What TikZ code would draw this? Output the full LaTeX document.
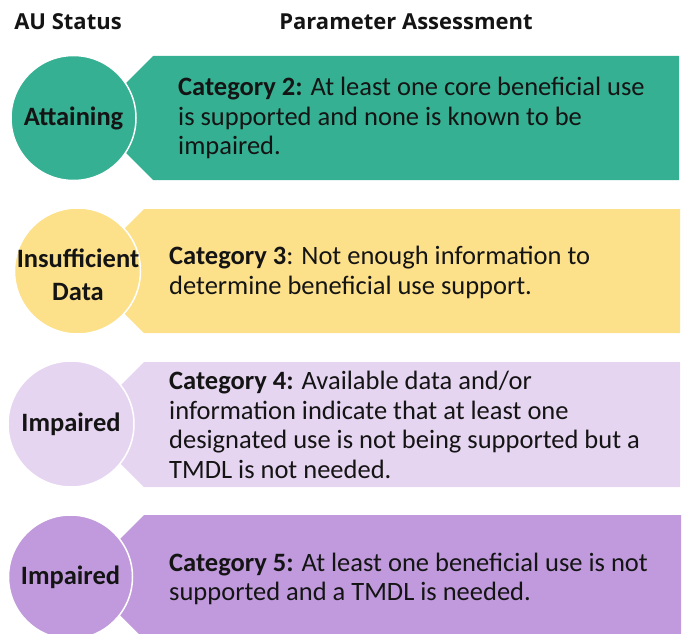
\documentclass[tikz,border=0pt]{standalone}
\usepackage{fontspec}
\setmainfont{Carlito}
\newfontfamily\headfont{Open Sans}
\definecolor{cgreen}{RGB}{53,176,146}
\definecolor{cyellow}{RGB}{253,224,138}
\definecolor{clilac}{RGB}{230,213,241}
\definecolor{cpurple}{RGB}{192,154,220}
\definecolor{ctext}{RGB}{20,20,20}
\begin{document}
\begin{tikzpicture}[x=1pt,y=-1pt,
  header/.style={font=\headfont\fontsize{22}{26}\selectfont\bfseries, text=ctext, inner sep=0pt},
  status/.style={circle, draw=white, line width=1.5pt, minimum size=#1, inner sep=0pt, align=center,
     font=\fontsize{26.5}{33}\selectfont\bfseries, text=ctext},
  statuslabel/.style={align=center, inner sep=0pt, font=\fontsize{26.5}{33}\selectfont\bfseries, text=ctext},
  body/.style={anchor=west, align=left, inner sep=0pt, text=ctext,
     font=\fontsize{26.5}{29.5}\selectfont}
]
\useasboundingbox (0,0) rectangle (685,634);
% headers
\node[header] (h1) at (68,22) {AU Status};
\node[header] (h2) at (406,22) {Parameter Assessment};
% banners
\fill[cgreen]  (153,56)  -- (679,56)  -- (679,180) -- (153,180) -- (91,118)  -- cycle;
\fill[cyellow] (144,209) -- (680,209) -- (680,333) -- (144,333) -- (82,271)  -- cycle;
\fill[clilac]  (144,362) -- (680,362) -- (680,487) -- (144,487) -- (81.5,424.5) -- cycle;
\fill[cpurple] (144,515) -- (681,515) -- (681,639) -- (144,639) -- (82,577)  -- cycle;
% circles
\node[status=125pt, fill=cgreen]  (s1) at (73.5,118) {Attaining};
\node[status=126pt, fill=cyellow] (s2) at (77.5,271) {};
\node[statuslabel] (l2) at (78,275) {Insufficient\\Data};
\node[status=126pt, fill=clilac]  (s3) at (71,424) {Impaired};
\node[status=124pt, fill=cpurple] (s4) at (70.5,577) {Impaired};
% texts
\node[body] (t1) at (178,118) {\textbf{Category 2:} At least one core beneficial use\\is supported and none is known to be\\impaired.};
\node[body] (t2) at (169,272.5) {\textbf{Category 3}: Not enough information to\\determine beneficial use support.};
\node[body] (t3) at (169,425) {\textbf{Category 4:} Available data and/or\\information indicate that at least one\\designated use is not being supported but a\\TMDL is not needed.};
\node[body] (t4) at (169,579) {\textbf{Category 5:} At least one beneficial use is not\\supported and a TMDL is needed.};
\end{tikzpicture}
\end{document}
